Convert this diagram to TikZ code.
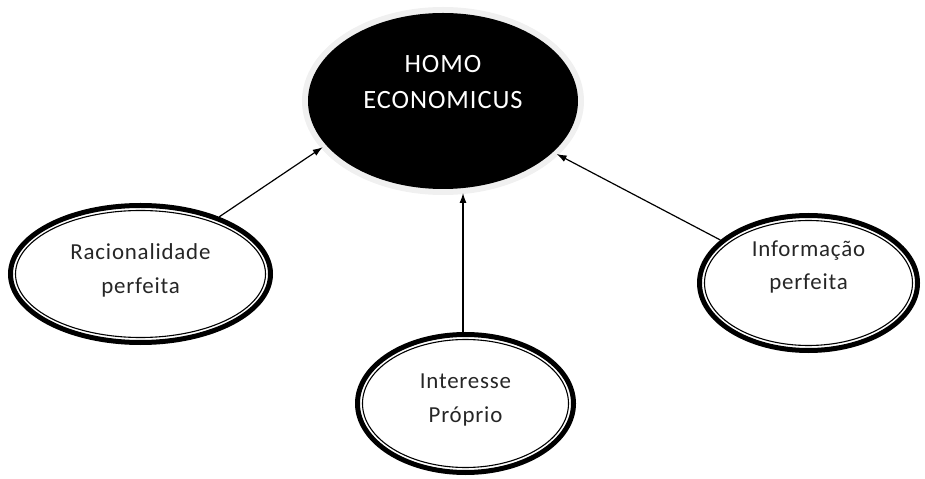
\documentclass[tikz,border=0pt]{standalone}
\usepackage{fontspec}
\setmainfont{Carlito}
\newfontfamily\spaced[LetterSpace=3.5]{Carlito}
\usetikzlibrary{shapes.geometric,arrows.meta}
\begin{document}
\begin{tikzpicture}[x=1bp,y=-1bp,
  hub/.style={ellipse, fill=black, minimum width=270bp, minimum height=176bp, inner sep=0pt, outer sep=4bp},
  hubtext/.style={text=white, align=center, inner sep=0pt, font=\spaced\fontsize{26.5}{37}\selectfont},
  leaf/.style={ellipse, draw=black, line width=5bp, fill=white, inner sep=0pt, outer sep=2.5bp},
  leaftext/.style={text=black!85, align=center, inner sep=0pt, font=\spaced\fontsize{23}{34}\selectfont},
  innerline/.style={line width=1.1bp},
  link/.style={-{Latex[length=10bp,width=7bp]}, line width=1.2bp}
]
\useasboundingbox (0,0) rectangle (925,479);
% central node with light glow
\fill[black!6] (443,101) ellipse [x radius=141bp, y radius=94bp];
\node[hub] (c) at (443,101) {};
\node[hubtext] (ct) at (443,82) {HOMO\\ECONOMICUS};
% left
\node[leaf, minimum width=260bp, minimum height=137bp] (l) at (140.5,274) {};
\draw[innerline] (l.center) ellipse [x radius=125bp, y radius=63.5bp];
\node[leaftext] (lt) at (140.5,270) {Racionalidade\\perfeita};
% right
\node[leaf, minimum width=218bp, minimum height=135bp] (r) at (808.5,283) {};
\draw[innerline] (r.center) ellipse [x radius=104bp, y radius=62.5bp];
\node[leaftext] (rt) at (808.5,267) {Informação\\perfeita};
% bottom
\node[leaf, minimum width=216bp, minimum height=138bp] (b) at (465.5,403.5) {};
\draw[innerline] (b.center) ellipse [x radius=103bp, y radius=64bp];
\node[leaftext] (bt) at (465.5,400) {Interesse\\Próprio};
% connectors
\draw[link] (l.36) -- (c.201);
\draw[link] (r.154) -- (c.335);
\draw[link] (b.92) -- (b.92 |- c.south);
\end{tikzpicture}
\end{document}
